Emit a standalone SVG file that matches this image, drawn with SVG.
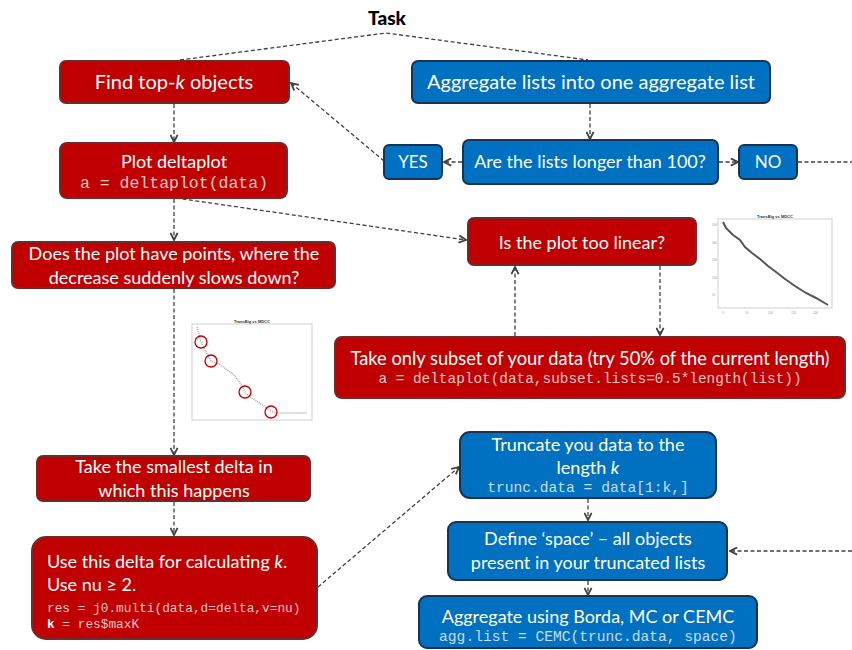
<svg xmlns="http://www.w3.org/2000/svg" width="852" height="650" viewBox="0 0 852 650">
<defs>
<style>
.red{fill:#C00000;stroke:#6b2c2c;stroke-width:2}
.blue{fill:#0070C0;stroke:#1c3350;stroke-width:2}
.t{font-family:Lato,"Open Sans","Liberation Sans",sans-serif;fill:#fff;text-anchor:middle}
.m{font-family:"Liberation Mono","Courier New",monospace;fill:#fff;fill-opacity:0.78;text-anchor:middle}
.s{text-anchor:start}
.c{fill:none;stroke:#404040;stroke-width:1.3;stroke-dasharray:4,2.5}
.ax{fill:none;stroke:#cfcfcf;stroke-width:1}
.tiny{font-family:"Liberation Sans",Arial,sans-serif;font-size:4px;fill:#333;text-anchor:middle}
</style>
<marker id="ah" viewBox="0 0 10 10" refX="9" refY="5" markerWidth="9" markerHeight="9" markerUnits="userSpaceOnUse" orient="auto">
<path d="M1,1 L9,5 L1,9" fill="none" stroke="#404040" stroke-width="2"/>
</marker>
</defs>
<rect width="852" height="650" fill="#fff"/>

<g id="task">
<text x="387" y="25" font-family="Lato,'Open Sans','Liberation Sans',sans-serif" font-size="19" font-weight="900" text-anchor="middle" fill="#000">Task</text>
</g>

<g id="connectors">
<polyline class="c" points="180,60 386,33 588,60"/>
<line class="c" x1="174" y1="104" x2="174" y2="142" marker-end="url(#ah)"/>
<line class="c" x1="174" y1="199" x2="174" y2="240" marker-end="url(#ah)"/>
<line class="c" x1="176" y1="198" x2="466" y2="240" marker-end="url(#ah)"/>
<line class="c" x1="174" y1="289" x2="174" y2="455" marker-end="url(#ah)"/>
<line class="c" x1="174" y1="502" x2="174" y2="535" marker-end="url(#ah)"/>
<line class="c" x1="318" y1="587" x2="459" y2="467" marker-end="url(#ah)"/>
<line class="c" x1="590" y1="104" x2="590" y2="139" marker-end="url(#ah)"/>
<line class="c" x1="462" y1="162" x2="444" y2="162" marker-end="url(#ah)"/>
<line class="c" x1="719" y1="162" x2="738" y2="162" marker-end="url(#ah)"/>
<line class="c" x1="798" y1="162" x2="852" y2="162"/>
<line class="c" x1="384" y1="161" x2="291" y2="83" marker-end="url(#ah)"/>
<line class="c" x1="515" y1="336" x2="515" y2="267" marker-end="url(#ah)"/>
<line class="c" x1="660" y1="266" x2="660" y2="335" marker-end="url(#ah)"/>
<line class="c" x1="588" y1="499" x2="588" y2="520" marker-end="url(#ah)"/>
<line class="c" x1="588" y1="581" x2="588" y2="595" marker-end="url(#ah)"/>
<line class="c" x1="852" y1="551" x2="730" y2="551" marker-end="url(#ah)"/>
</g>

<g id="find-topk">
<rect class="red" x="60" y="61" width="229" height="42" rx="6"/>
<text class="t" x="174" y="89" font-size="20">Find top-<tspan font-style="italic">k</tspan> objects</text>
</g>

<g id="aggregate-lists">
<rect class="blue" x="412" y="61" width="358" height="42" rx="6"/>
<text class="t" x="591" y="89" font-size="20">Aggregate lists into one aggregate list</text>
</g>

<g id="plot-deltaplot">
<rect class="red" x="60" y="143" width="227" height="55" rx="7"/>
<text class="t" x="174" y="168" font-size="18">Plot deltaplot</text>
<text class="m" x="174" y="188" font-size="16.5">a = deltaplot(data)</text>
</g>

<g id="yes">
<rect class="blue" x="384" y="145" width="58" height="34" rx="5"/>
<text class="t" x="413" y="168" font-size="17">YES</text>
</g>

<g id="lists-longer">
<rect class="blue" x="463" y="140" width="255" height="44" rx="6"/>
<text class="t" x="590" y="168" font-size="18">Are the lists longer than 100?</text>
</g>

<g id="no">
<rect class="blue" x="739" y="145" width="58" height="34" rx="5"/>
<text class="t" x="768" y="168" font-size="17">NO</text>
</g>

<g id="has-points">
<rect class="red" x="12" y="242" width="323" height="46" rx="6"/>
<text class="t" x="174" y="260" font-size="18">Does the plot have points, where the</text>
<text class="t" x="174" y="284" font-size="18">decrease suddenly slows down?</text>
</g>

<g id="too-linear">
<rect class="red" x="468" y="218" width="228" height="47" rx="6"/>
<text class="t" x="582" y="249" font-size="18">Is the plot too linear?</text>
</g>

<g id="plot-linear">
<rect class="ax" x="718" y="219" width="114" height="89"/>
<text class="tiny" x="775" y="218" font-weight="bold">TransBig vs MDCC</text>
<path d="M723,222 L726,228 L733,235 L740,240 L745,247 L752,253 L760,259 L768,266 L776,272 L785,279 L795,286 L806,293 L816,298 L828,305" fill="none" stroke="#555" stroke-width="2"/>
<g fill="#999" font-family="Liberation Sans,Arial,sans-serif" font-size="3">
<text x="712" y="226">400</text><text x="712" y="244">300</text><text x="712" y="261">200</text><text x="712" y="279">100</text><text x="712" y="296">50</text>
<text x="722" y="314">0</text><text x="745" y="314">50</text><text x="768" y="314">100</text><text x="791" y="314">150</text><text x="813" y="314">200</text>
</g>
</g>

<g id="take-subset">
<rect class="red" x="335" y="337" width="510" height="61" rx="7"/>
<text class="t" x="590" y="365" font-size="18.3">Take only subset of your data (try 50% of the current length)</text>
<text class="m" x="590" y="383" font-size="14.4">a = deltaplot(data,subset.lists=0.5*length(list))</text>
</g>

<g id="plot-points">
<rect class="ax" x="192" y="324" width="120" height="96"/>
<text class="tiny" x="252" y="323" font-weight="bold">TransBig vs MDCC</text>
<path d="M197,327 L199,334 L201,342 L205,350 L208,356 L211,361 L217,363 L222,366 L227,370 L233,374 L238,380 L243,388 L246,394 L252,398 L258,402 L264,406 L271,411 L275,413 L307,413" fill="none" stroke="#aaa" stroke-width="1.5" stroke-dasharray="1,1"/>
<g fill="none" stroke="#C00000" stroke-width="1.3">
<circle cx="201" cy="342" r="6"/>
<circle cx="211" cy="361" r="6"/>
<circle cx="245" cy="392" r="6"/>
<circle cx="271" cy="412" r="6"/>
</g>
</g>

<g id="smallest-delta">
<rect class="red" x="37" y="456" width="273" height="45" rx="6"/>
<text class="t" x="174" y="473" font-size="18">Take the smallest delta in</text>
<text class="t" x="174" y="497" font-size="18">which this happens</text>
</g>

<g id="use-delta">
<rect class="red" x="32" y="537" width="285" height="102" rx="14"/>
<text class="t s" x="47" y="568" font-size="18">Use this delta for calculating <tspan font-style="italic">k</tspan>.</text>
<text class="t s" x="47" y="591" font-size="18">Use nu ≥ 2.</text>
<text class="m s" x="47" y="612" font-size="12.8">res = j0.multi(data,d=delta,v=nu)</text>
<text class="m s" x="47" y="628" font-size="12.8"><tspan font-weight="bold" fill="#fff" fill-opacity="1">k</tspan> = res$maxK</text>
</g>

<g id="truncate">
<rect class="blue" x="460" y="432" width="256" height="66" rx="10"/>
<text class="t" x="588" y="451" font-size="18">Truncate you data to the</text>
<text class="t" x="588" y="474" font-size="18">length <tspan font-style="italic">k</tspan></text>
<text class="m" x="588" y="492" font-size="14.6">trunc.data = data[1:k,]</text>
</g>

<g id="define-space">
<rect class="blue" x="448" y="522" width="279" height="58" rx="8"/>
<text class="t" x="588" y="545" font-size="18">Define ‘space’ – all objects</text>
<text class="t" x="588" y="569" font-size="18">present in your truncated lists</text>
</g>

<g id="aggregate-using">
<rect class="blue" x="419" y="596" width="338" height="52" rx="8"/>
<text class="t" x="588" y="623" font-size="18">Aggregate using Borda, MC or CEMC</text>
<text class="m" x="588" y="641" font-size="14.6">agg.list = CEMC(trunc.data, space)</text>
</g>
</svg>
